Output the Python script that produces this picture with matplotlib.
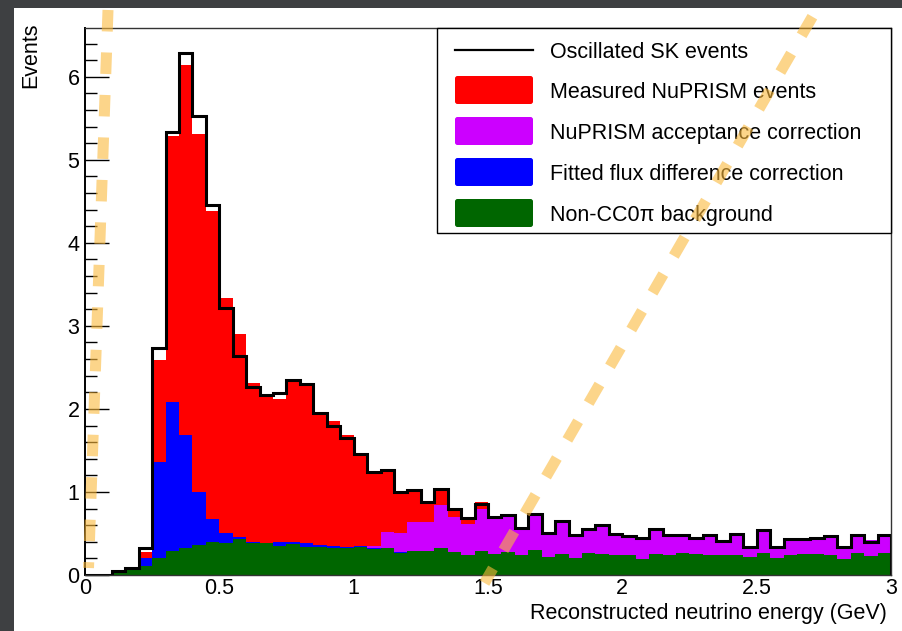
import numpy as np
import matplotlib
matplotlib.use('Agg')
import matplotlib.pyplot as plt
from matplotlib.patches import Rectangle, FancyBboxPatch
from matplotlib.ticker import MultipleLocator, FuncFormatter

plt.rcParams['font.family'] = ['Liberation Sans', 'DejaVu Sans']

# 60 bins of 0.05 GeV from 0 to 3 GeV
edges = np.linspace(0, 3, 61)

# stacked components (bottom -> top), events per bin
background = [0, 0.005, 0.04, 0.06, 0.11, 0.21, 0.29, 0.33, 0.36, 0.40,
              0.39, 0.43, 0.39, 0.39, 0.35, 0.37, 0.34, 0.34, 0.33, 0.33,
              0.34, 0.31, 0.32, 0.27, 0.29, 0.29, 0.32, 0.28, 0.24, 0.29,
              0.25, 0.28, 0.24, 0.30, 0.22, 0.25, 0.21, 0.26, 0.25, 0.24,
              0.24, 0.19, 0.25, 0.24, 0.26, 0.25, 0.24, 0.24, 0.24, 0.22,
              0.27, 0.20, 0.24, 0.25, 0.25, 0.24, 0.19, 0.26, 0.23, 0.26]
flux_corr = [0, 0, 0, 0.005, 0.10, 1.15, 1.79, 1.36, 0.64, 0.28,
             0.11, 0.03, 0.01, 0.0, 0.05, 0.03, 0.05, 0.02, 0.02, 0.01,
             0.005, 0.01, 0.005, 0.005, 0.005, 0, 0, 0, 0, 0,
             0, 0, 0, 0, 0, 0, 0, 0, 0, 0,
             0, 0, 0, 0, 0, 0, 0, 0, 0, 0,
             0, 0, 0, 0, 0, 0, 0, 0, 0, 0]
acceptance_corr = [0, 0, 0, 0, 0, 0, 0, 0, 0, 0,
                   0, 0, 0, 0, 0, 0, 0, 0, 0, 0,
                   0.005, 0.03, 0.195, 0.235, 0.345, 0.35, 0.52, 0.42, 0.38, 0.51,
                   0.46, 0.44, 0.34, 0.44, 0.30, 0.41, 0.27, 0.30, 0.36, 0.24,
                   0.24, 0.24, 0.30, 0.24, 0.22, 0.21, 0.25, 0.18, 0.26, 0.13,
                   0.28, 0.15, 0.20, 0.19, 0.20, 0.23, 0.16, 0.22, 0.19, 0.23]
measured = [0, 0, 0.01, 0.01, 0.07, 1.23, 3.21, 4.45, 4.31, 3.70,
            2.83, 2.44, 1.91, 1.76, 1.72, 1.95, 1.88, 1.59, 1.51, 1.35,
            1.11, 0.88, 0.74, 0.47, 0.39, 0.24, 0.21, 0.10, 0.08, 0.08,
            0, 0, 0, 0, 0, 0, 0, 0, 0, 0,
            0, 0, 0, 0, 0, 0, 0, 0, 0, 0,
            0, 0, 0, 0, 0, 0, 0, 0, 0, 0]
sk_oscillated = [0, 0.005, 0.05, 0.08, 0.32, 2.73, 5.33, 6.28, 5.53, 4.46,
                 3.21, 2.64, 2.26, 2.17, 2.19, 2.35, 2.30, 1.95, 1.80, 1.65,
                 1.46, 1.24, 1.26, 1.00, 1.02, 0.88, 1.04, 0.80, 0.69, 0.85,
                 0.70, 0.72, 0.57, 0.73, 0.51, 0.65, 0.48, 0.55, 0.60, 0.49,
                 0.47, 0.44, 0.55, 0.48, 0.48, 0.45, 0.48, 0.41, 0.49, 0.34,
                 0.54, 0.34, 0.43, 0.43, 0.45, 0.47, 0.34, 0.48, 0.40, 0.48]

labels = ['Oscillated SK events', 'Measured NuPRISM events',
          'NuPRISM acceptance correction', 'Fitted flux difference correction',
          'Non-CC0\u03c0 background']
colors = ['black', '#ff0000', '#cc00ff', '#0000ff', '#006600']

W, H = 903, 631
fs = 15.5
fig = plt.figure(figsize=(W / 100, H / 100), dpi=100)
fig.patch.set_facecolor('#3e4042')
fig.add_artist(Rectangle((14 / W, 0), 1, 1 - 8 / H, transform=fig.transFigure,
                         facecolor='white', edgecolor='none', zorder=0))

ax = fig.add_axes([85 / W, 1 - 575 / H, 806 / W, 547 / H])
ax.set_facecolor('white')

# stacked histogram: green, blue, magenta, red
base = np.zeros(len(background))
for vals, c in [(background, colors[4]), (flux_corr, colors[3]),
                (acceptance_corr, colors[2]), (measured, colors[1])]:
    top = base + np.array(vals)
    ax.stairs(top, edges, baseline=base, fill=True, color=c, linewidth=0)
    base = top
ax.stairs(sk_oscillated, edges, color='black', linewidth=2.2)

ax.set_xlim(0, 3)
ax.set_ylim(0, 6.587)
ax.xaxis.set_major_locator(MultipleLocator(0.5))
ax.xaxis.set_major_formatter(FuncFormatter(lambda v, p: f'{v:g}'))
ax.yaxis.set_major_locator(MultipleLocator(1))
ax.yaxis.set_minor_locator(MultipleLocator(0.2))
ax.tick_params(axis='x', length=0, pad=2, labelsize=fs)
ax.tick_params(axis='y', which='major', direction='in', length=17, width=1,
               pad=4, labelsize=fs)
ax.tick_params(axis='y', which='minor', direction='in', length=8.5, width=1)
for s in ax.spines.values():
    s.set_linewidth(1.0)
    s.set_color('#333333')
ax.spines['left'].set_color('black')
ax.spines['left'].set_linewidth(1.4)

fig.text(31 / W, 1 - 22 / H, 'Events', rotation=90, ha='center', va='top', fontsize=fs)
fig.text(887 / W, 1 - 619 / H, 'Reconstructed neutrino energy (GeV)',
         ha='right', va='baseline', fontsize=fs)

# overlay in pixel coordinates for legend and annotation strokes
ov = fig.add_axes([0, 0, 1, 1])
ov.set_xlim(0, W)
ov.set_ylim(H, 0)
ov.axis('off')

ov.add_patch(Rectangle((437, 28), 454, 205, facecolor='white', edgecolor='black',
                       linewidth=1.0))
rows = [50, 90, 131, 172, 213]
for i, (lab, c) in enumerate(zip(labels, colors)):
    y = rows[i]
    if i == 0:
        ov.plot([455, 533], [y, y], color=c, linewidth=1.6)
    else:
        ov.add_patch(FancyBboxPatch((455, y - 14), 78, 28,
                                    boxstyle='round,pad=0,rounding_size=2.5',
                                    facecolor=c, edgecolor='none'))
    ov.text(550, y + 7.7, lab, fontsize=fs, va='baseline', ha='left')

lw = 11 * 72 / 100
for (x0, y0), (x1, y1) in [((108, 10), (88.5, 568)), ((812.4, 16.7), (484.5, 583))]:
    ov.plot([x0, x1], [y0, y1], color='#fbb93c', alpha=0.6, linewidth=lw,
            dashes=(21.5 / 11, 21 / 11), dash_capstyle='butt', zorder=10)

fig.savefig('out.png', dpi=100, facecolor=fig.get_facecolor())
